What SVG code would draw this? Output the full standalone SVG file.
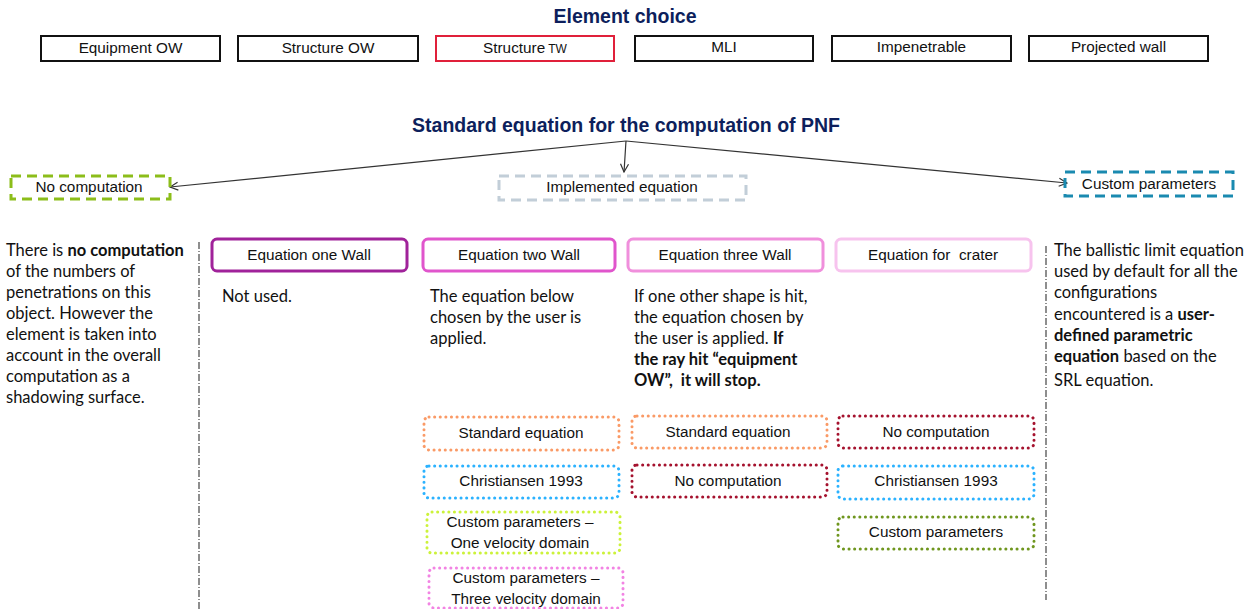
<svg xmlns="http://www.w3.org/2000/svg" width="1259" height="609" viewBox="0 0 1259 609">
<defs>
<style>
.title{font-family:"Liberation Sans",Arial,sans-serif;font-weight:bold;font-size:19.5px;fill:#0d1f5c;text-anchor:middle}
.lbl{font-family:"Liberation Sans",Arial,sans-serif;font-size:15.3px;fill:#111;text-anchor:middle}
.body{font-family:Lato,"Noto Sans",sans-serif;font-size:16.5px;fill:#111}
.b{font-weight:bold}
.top{fill:#fff;stroke:#111;stroke-width:2}
.eq{fill:#fff;stroke-width:3}
.dash{fill:none;stroke-width:3;stroke-dasharray:10 6}
.dot{fill:#fff;stroke-width:3;stroke-dasharray:0.1 5.5;stroke-linecap:round}
.sep{stroke:#444;stroke-width:1.2;stroke-dasharray:7 2 1 2;fill:none}
.conn{stroke:#333;stroke-width:1.2;fill:none;marker-end:url(#arr)}
</style>
<marker id="arr" viewBox="0 0 10 10" refX="9" refY="5" markerWidth="10" markerHeight="10" markerUnits="userSpaceOnUse" orient="auto">
<path d="M1,1 L9,5 L1,9" fill="none" stroke="#333" stroke-width="1.2"/>
</marker>
</defs>
<rect width="1259" height="609" fill="#fff"/>

<text class="title" x="625" y="23">Element choice</text>

<g id="equipment-ow"><rect class="top" x="41" y="36" width="179" height="25"/><text class="lbl" x="130.5" y="53">Equipment OW</text></g>
<g id="structure-ow"><rect class="top" x="238" y="36" width="180" height="25"/><text class="lbl" x="328" y="53">Structure OW</text></g>
<g id="structure-tw"><rect class="top" x="436" y="36" width="178" height="25" style="stroke:#e0203a"/><text class="lbl" x="525" y="53">Structure<tspan font-size="12px"> TW</tspan></text></g>
<g id="mli"><rect class="top" x="635" y="36" width="178" height="25"/><text class="lbl" x="724" y="52">MLI</text></g>
<g id="impenetrable"><rect class="top" x="832" y="36" width="179" height="25"/><text class="lbl" x="921.5" y="52">Impenetrable</text></g>
<g id="projected-wall"><rect class="top" x="1029" y="36" width="179" height="25"/><text class="lbl" x="1118.5" y="52">Projected wall</text></g>

<text class="title" x="626" y="132">Standard equation for the computation of PNF</text>

<g id="connectors">
<path class="conn" d="M626,141 L170,187"/>
<path class="conn" d="M626,141 L624,172"/>
<path class="conn" d="M626,141 L1067,183"/>
</g>

<g id="no-computation"><rect class="dash" x="11" y="176" width="159" height="23" style="stroke:#8cbd1a"/><text class="lbl" x="89" y="192">No computation</text></g>
<g id="implemented-equation"><rect class="dash" x="499" y="176" width="247" height="24" style="stroke:#c2ced8"/><text class="lbl" x="622" y="192">Implemented equation</text></g>
<g id="custom-parameters"><rect class="dash" x="1065" y="172" width="168" height="24" style="stroke:#1a8ab0"/><text class="lbl" x="1149" y="189">Custom parameters</text></g>

<g id="separators">
<line class="sep" x1="199" y1="242" x2="199" y2="609"/>
<line class="sep" x1="1046" y1="246" x2="1046" y2="600"/>
</g>

<g id="no-computation-text">
<text class="body" x="6">
<tspan x="6" y="256">There is <tspan class="b">no computation</tspan></tspan>
<tspan x="6" y="277">of the numbers of</tspan>
<tspan x="6" y="298">penetrations on this</tspan>
<tspan x="6" y="319">object. However the</tspan>
<tspan x="6" y="340">element is taken into</tspan>
<tspan x="6" y="361">account in the overall</tspan>
<tspan x="6" y="382">computation as a</tspan>
<tspan x="6" y="403">shadowing surface.</tspan>
</text>
</g>

<g id="eq-one-wall"><rect class="eq" x="212" y="239" width="195" height="32" rx="5" style="stroke:#a0229a"/><text class="lbl" x="309" y="260">Equation one Wall</text>
<text class="body" x="222" y="302">Not used.</text></g>

<g id="eq-two-wall"><rect class="eq" x="423" y="239" width="192" height="32" rx="5" style="stroke:#e055cc"/><text class="lbl" x="519" y="260">Equation two Wall</text>
<text class="body"><tspan x="430" y="302">The equation below</tspan><tspan x="430" y="323">chosen by the user is</tspan><tspan x="430" y="344">applied.</tspan></text></g>

<g id="eq-three-wall"><rect class="eq" x="628" y="239" width="195" height="32" rx="5" style="stroke:#f08fdc"/><text class="lbl" x="725" y="260">Equation three Wall</text>
<text class="body"><tspan x="634" y="302">If one other shape is hit,</tspan><tspan x="634" y="323">the equation chosen by</tspan><tspan x="634" y="344">the user is applied. <tspan class="b">If</tspan></tspan><tspan x="634" y="365" class="b">the ray hit “equipment</tspan><tspan x="634" y="386" class="b">OW”,&#160; it will stop.</tspan></text></g>

<g id="eq-crater"><rect class="eq" x="836" y="239" width="195" height="32" rx="5" style="stroke:#f7c3ee"/><text class="lbl" x="933" y="260">Equation for&#160; crater</text></g>

<g id="custom-text">
<text class="body">
<tspan x="1054" y="256">The ballistic limit equation</tspan>
<tspan x="1054" y="277">used by default for all the</tspan>
<tspan x="1054" y="298">configurations</tspan>
<tspan x="1054" y="320">encountered is a <tspan class="b">user-</tspan></tspan>
<tspan x="1054" y="341" class="b">defined parametric</tspan>
<tspan x="1054" y="362"><tspan class="b">equation</tspan> based on the</tspan>
<tspan x="1054" y="386">SRL equation.</tspan>
</text>
</g>

<g id="c2-standard"><rect class="dot" x="424" y="417" width="195" height="33" rx="5" style="stroke:#fa9a66"/><text class="lbl" x="521" y="438">Standard equation</text></g>
<g id="c2-christiansen"><rect class="dot" x="424" y="466" width="195" height="32" rx="5" style="stroke:#2bb2ff"/><text class="lbl" x="521" y="486">Christiansen 1993</text></g>
<g id="c2-custom-one"><rect class="dot" x="427" y="512" width="193" height="41" rx="5" style="stroke:#ccf23a"/><text class="lbl"><tspan x="520" y="527">Custom parameters –</tspan><tspan x="520" y="548">One velocity domain</tspan></text></g>
<g id="c2-custom-three"><rect class="dot" x="429" y="568" width="194" height="40" rx="5" style="stroke:#f283e3"/><text class="lbl"><tspan x="526" y="583">Custom parameters –</tspan><tspan x="526" y="604">Three velocity domain</tspan></text></g>

<g id="c3-standard"><rect class="dot" x="632" y="416" width="195" height="32" rx="5" style="stroke:#fa9a66"/><text class="lbl" x="728" y="437">Standard equation</text></g>
<g id="c3-nocomp"><rect class="dot" x="632" y="465" width="195" height="32" rx="5" style="stroke:#a5122e"/><text class="lbl" x="728" y="486">No computation</text></g>

<g id="c4-nocomp"><rect class="dot" x="838" y="416" width="196" height="32" rx="5" style="stroke:#a5122e"/><text class="lbl" x="936" y="437">No computation</text></g>
<g id="c4-christiansen"><rect class="dot" x="838" y="466" width="196" height="33" rx="5" style="stroke:#2bb2ff"/><text class="lbl" x="936" y="486">Christiansen 1993</text></g>
<g id="c4-custom"><rect class="dot" x="838" y="517" width="196" height="32" rx="5" style="stroke:#6f961e"/><text class="lbl" x="936" y="537">Custom parameters</text></g>
</svg>
